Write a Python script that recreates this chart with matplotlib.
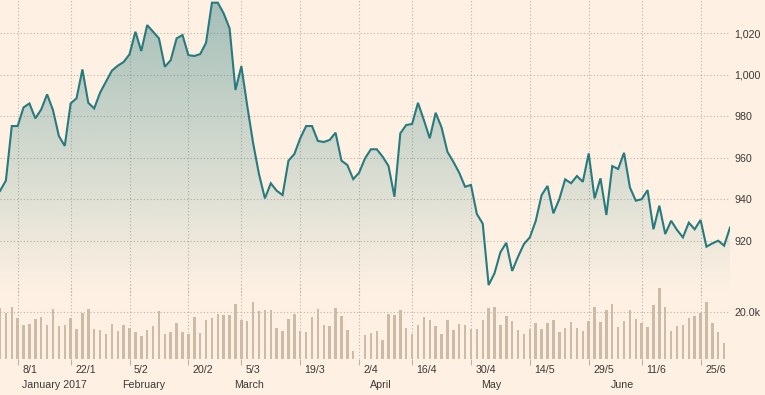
import numpy as np
import matplotlib
matplotlib.use("Agg")
import matplotlib.pyplot as plt
from matplotlib.colors import to_rgb

# daily closes, one per trading day, 3 Jan 2017 .. 30 Jun 2017
price = [944, 949, 975.3, 975.3, 984.3, 986.2, 979, 983.3, 990.6, 983,
         970.5, 965.7, 986.2, 988.7, 1002.6, 986.5, 983.8, 991.4, 996.7, 1002,
         1004.4, 1006.2, 1009.9, 1020.8, 1011.5, 1024, 1020.8, 1017.6, 1003.9, 1007.1,
         1017.6, 1019.2, 1009.5, 1009.1, 1010, 1015.5, 1034.8, 1034.8, 1029.6, 1022.4,
         992.7, 1004.2, 985, 967, 952, 940.4, 947.7, 944.1, 942, 958.6,
         961.8, 969.4, 975.3, 975.3, 968.1, 967.6, 968.6, 972.1, 958.6, 956.5,
         949.7, 952.8, 959.7, 964.1, 964.1, 960.5, 956, 941.2, 971.8, 975.8,
         976.3, 986.5, 978.2, 969.4, 981.7, 974.7, 962.9, 958.1, 952.8, 946,
         946.9, 932.9, 928.2, 898.6, 904.3, 914.4, 919, 905.4, 912.3, 918.4,
         921.6, 929.5, 942, 946.4, 933.2, 940, 949.6, 947.7, 951.2, 948.4,
         962.1, 940.4, 950.1, 932.4, 956, 954.6, 962.4, 945.7, 939.3, 940,
         944.4, 925.5, 936.9, 923.2, 929.6, 925.2, 921.6, 928.7, 925.5, 930,
         917.1, 918.7, 920, 917.6, 926.3]

# volume in thousands (nan = no bar)
volume_k = [21.7, 19.6, 22.1, 17.4, 14.6, 15, 17, 17.9, 14.6, 21.3,
            14.1, 14.6, 17.4, 12.7, 19.6, 21.3, 12.7, 12.4, 10.7, 15,
            12, 14.6, 13.1, 11.6, 9.9, 12.4, 14.1, 20.6, 10.7, 11.6,
            15.6, 11.6, 10.7, 18.1, 11.3, 16.7, 17.6, 19.4, 19, 19,
            23.6, 16.7, 16.3, 24.4, 20.6, 21, 21, 13.3, 12, 17.1,
            19.3, 12, 11.6, 18, 21.4, 14.6, 14.1, 21.9, 18.4, 12.4,
            3.4, np.nan, 10.3, 11, 12, 8.1, 19.3, 18.9, 21, 13.4,
            10.7, 14.6, 17.9, 16.7, 14.1, 10.7, 16.7, 12.4, 15, 14.6,
            12.9, 12.9, 16.7, 21.7, 22.3, 14.6, 18.4, 16.3, 12.4, 10.7,
            12.9, 15.4, 12.9, 15.4, 16.7, 11.6, 13.3, 15.9, 13.3, 12,
            16.3, 22.3, 15.9, 21, 23.6, 13.7, 16.3, 21, 17.1, 15.4,
            13.7, 23.1, 30.3, 22.3, 12, 14.1, 14.6, 17.6, 18.4, 19.9,
            24.4, 15.4, 11.6, 6.9, np.nan]

# tick positions are trading-day indices
tick_idx = [3, 12, 22, 32, 41, 51, 61, 70, 80, 90, 100, 109, 119]
tick_labels = ["8/1", "22/1", "5/2", "20/2", "5/3", "19/3", "2/4",
               "16/4", "30/4", "14/5", "29/5", "11/6", "25/6"]
month_idx = [3, 20, 39, 62, 81, 103]
month_labels = ["January 2017", "February", "March", "April", "May", "June"]
price_ticks = [920, 940, 960, 980, 1000, 1020]

bg = "#fef1e3"
teal = "#277a7e"
bar_col = "#cdbba7"
grid_col = "#bdb4a9"
txt_col = "#3d3935"
font = dict(family=["Liberation Sans", "DejaVu Sans"], size=7.7, color=txt_col)

x = np.arange(len(price))
price = np.array(price)
volume_k = np.array(volume_k)

fig = plt.figure(figsize=(7.65, 3.95), dpi=100, facecolor=bg)
W, H = 765, 395

ax = fig.add_axes([0, 100 / H, 730 / W, 295 / H])
axv = fig.add_axes([0, 36 / H, 730 / W, 74 / H])
for a in (ax, axv):
    a.set_facecolor("none")
    for s in a.spines.values():
        s.set_visible(False)
    a.set_xlim(0, len(price) - 1)
    a.set_xticks(tick_idx)
    a.grid(True, color=grid_col, linestyle=(0, (1, 2)), linewidth=0.8)
    a.set_axisbelow(True)
axv.set_zorder(0)
ax.set_zorder(1)

ylo, yhi = 893.8, 1036.1

# gradient fill under the line, fading out towards the bottom
poly = ax.fill_between(x, price, ylo, facecolor="none", edgecolor="none")
grad = np.zeros((256, 1, 4))
grad[..., :3] = to_rgb(teal)
grad[..., 3] = np.linspace(0.0, 0.42, 256)[:, None]
im = ax.imshow(grad, extent=[0, len(price) - 1, ylo, yhi], aspect="auto",
               origin="lower", zorder=1)
im.set_clip_path(poly.get_paths()[0], transform=ax.transData)
ax.plot(x, price, color=teal, linewidth=1.5, zorder=3, solid_joinstyle="miter")

ax.set_xlim(0, len(price) - 1)
ax.set_ylim(ylo, yhi)
ax.set_yticks(price_ticks)
ax.set_yticklabels([f"{v:,.0f}" for v in price_ticks], **font)
ax.yaxis.tick_right()
ax.tick_params(axis="y", length=0, pad=3.1)
ax.tick_params(axis="x", length=0, labelbottom=False)

# volume
axv.bar(x, volume_k, width=0.42, color=bar_col, zorder=2)
axv.set_ylim(0, 74 / 46.7 * 20)
axv.set_yticks([20])
axv.set_yticklabels(["20.0k"], **font)
axv.yaxis.tick_right()
axv.tick_params(axis="y", length=0, pad=3.1)
axv.tick_params(axis="x", length=4.3, width=0.8, color=grid_col, labelbottom=False)

for i, lab in zip(tick_idx, tick_labels):
    axv.annotate(lab, xy=(i, 0), xycoords=("data", "axes fraction"),
                 xytext=(3.2, -7.9), textcoords="offset points",
                 ha="left", va="center", annotation_clip=False, **font)
for i, lab in zip(month_idx, month_labels):
    axv.annotate(lab, xy=(i, 0), xycoords=("data", "axes fraction"),
                 xytext=(3.3, -18.9), textcoords="offset points",
                 ha="left", va="center", annotation_clip=False, **font)

fig.savefig("out.png", dpi=100, facecolor=bg)
